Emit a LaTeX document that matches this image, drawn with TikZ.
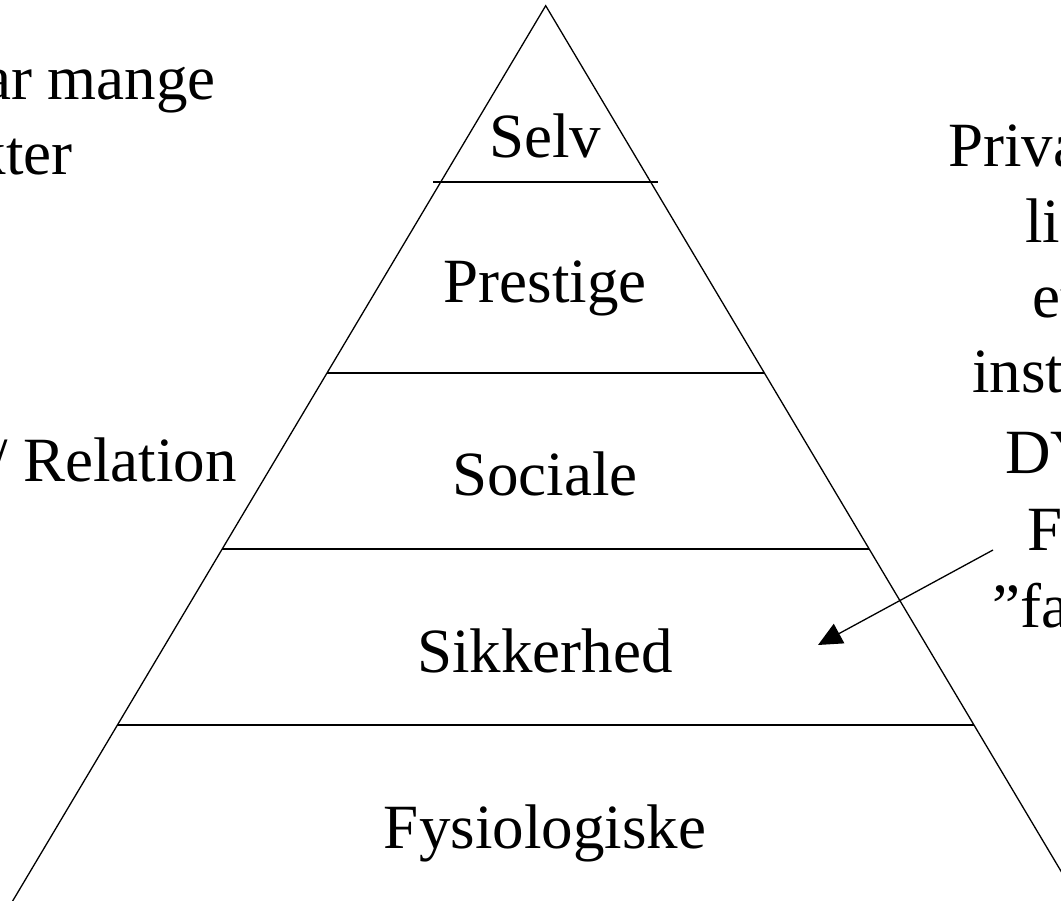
\documentclass[tikz,border=0pt]{standalone}
\usepackage{fontspec}
\setmainfont{Liberation Serif}
\usetikzlibrary{arrows.meta}
\begin{document}
\begin{tikzpicture}[x=1pt,y=-1pt,
  edge/.style={line width=1.3pt,black},
  level/.style={font=\fontsize{63}{76}\selectfont,inner sep=0pt,anchor=base},
  side/.style={font=\fontsize{63}{76}\selectfont,inner sep=0pt},
  pointer/.style={line width=1.3pt,-{Triangle[length=24pt,width=22pt]}}]
  \useasboundingbox (0,0) rectangle (1061,901);
  \clip (0,0) rectangle (1061,901);

  % pyramid outline
  \coordinate (apex) at (545.7,5.7);
  \coordinate (baseL) at (5.5,913);
  \coordinate (baseR) at (1085.9,913);
  \draw[edge,line join=miter] (baseL) -- (apex) -- (baseR);

  % level dividers
  \draw[edge] (433,182) coordinate (d1l) -- (658,182) coordinate (d1r);
  \draw[edge] (327,373) coordinate (d2l) -- (764,373) coordinate (d2r);
  \draw[edge] (222,549) coordinate (d3l) -- (869,549) coordinate (d3r);
  \draw[edge] (117,725) coordinate (d4l) -- (974,725) coordinate (d4r);

  % level names
  \node[level] (selv) at (545,158) {Selv};
  \node[level] (prestige) at (545,303) {Prestige};
  \node[level] (sociale) at (545,495) {Sociale};
  \node[level] (sikkerhed) at (545,672) {Sikkerhed};
  \node[level] (fysio) at (545,848) {Fysiologiske};

  % left notes
  \node[side,anchor=base east] (l1) at (216,100) {ar mange};
  \node[side,anchor=base east] (l2) at (73,175) {kter};
  \node[side,anchor=base east] (l3) at (237,482) {/ Relation};

  % right notes
  \node[side,anchor=base west] (r1) at (948,167) {Priva};
  \node[side,anchor=base west] (r2) at (1025,243) {lig};
  \node[side,anchor=base west] (r3) at (1032,318) {et};
  \node[side,anchor=base west] (r4) at (972,393) {inst};
  \node[side,anchor=base west] (r5) at (1005,473) {DY};
  \node[side,anchor=base west] (r6) at (1027,550) {F};
  \node[side,anchor=base west] (r7) at (992,627) {”fa};

  % pointer into the safety level
  \coordinate (from) at (993,550);
  \coordinate (to) at (818,645);
  \draw[pointer] (from) -- (to);
\end{tikzpicture}
\end{document}
